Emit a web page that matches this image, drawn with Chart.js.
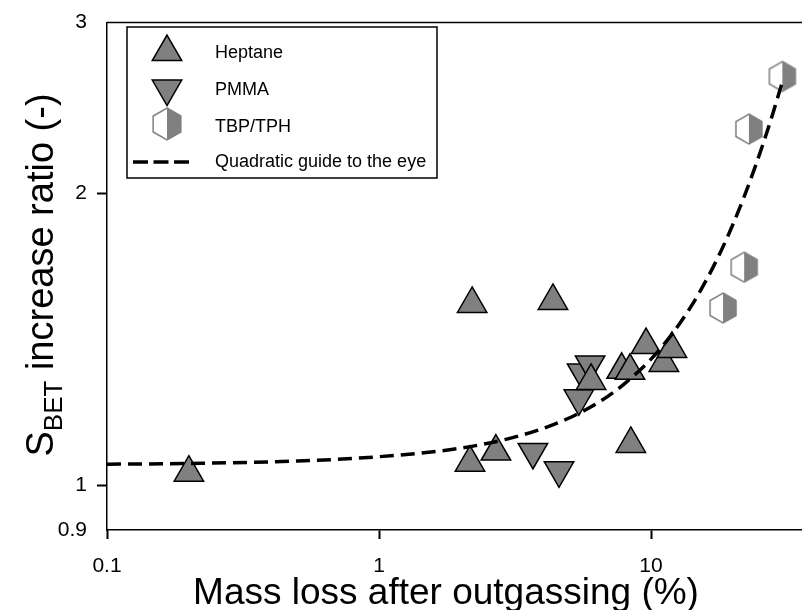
<!DOCTYPE html>
<html>
<head>
<meta charset="utf-8">
<script src="https://cdn.jsdelivr.net/npm/chart.js"></script>
<style>
  html, body { margin: 0; padding: 0; background: #fff; }
</style>
</head>
<body>
<canvas id="sbetChart" width="802" height="610"></canvas>
<script>
// mass loss after outgassing (%) vs S_BET increase ratio, per sample family
const heptaneX = [0.2, 2.16, 2.69, 2.2, 4.36, 8.43, 6.02, 7.8, 8.37, 9.59, 11.15, 11.94];
const heptaneY = [1.031, 1.056, 1.084, 1.539, 1.55, 1.104, 1.282, 1.316, 1.313, 1.396, 1.338, 1.383];
const pmmaX = [3.68, 4.59, 5.43, 5.58, 5.97];
const pmmaY = [1.083, 1.037, 1.23, 1.308, 1.333];
const tbpX = [18.4, 22.0, 22.9, 30.4];
const tbpY = [1.524, 1.679, 2.33, 2.64];

// dashed guide curve
const guideX = [0.1, 0.2, 0.5, 1, 2, 3, 4, 5, 6, 7, 8, 10, 12, 14, 16, 18, 20, 22, 24, 26, 28, 30, 30.5];
const guideY = [1.052, 1.054, 1.06, 1.071, 1.093, 1.118, 1.145, 1.174, 1.205, 1.238, 1.274, 1.35, 1.435, 1.528, 1.63, 1.74, 1.858, 1.985, 2.12, 2.263, 2.414, 2.574, 2.615];

const xTicks = [0.1, 1, 10];
const yTicks = [0.9, 1, 2, 3];
const seriesNames = ['Heptane', 'PMMA', 'TBP/TPH', 'Quadratic guide to the eye'];

const GRAY = '#808080';
const FONT = '"Liberation Sans", Arial, sans-serif';

const pts = (xs, ys) => xs.map((x, i) => ({ x: x, y: ys[i] }));

// half white / half grey hexagon used as a point style
function hexPath(ctx, cx, cy, r) {
    ctx.beginPath();
    for (let k = 0; k < 6; k++) {
        const a = -Math.PI / 2 + k * Math.PI / 3;
        const px = cx + r * Math.cos(a), py = cy + r * Math.sin(a);
        if (k === 0) ctx.moveTo(px, py); else ctx.lineTo(px, py);
    }
    ctx.closePath();
}
function drawHex(ctx, cx, cy, r) {
    ctx.save();
    hexPath(ctx, cx, cy, r);
    ctx.fillStyle = '#fff';
    ctx.fill();
    ctx.save();
    ctx.beginPath();
    ctx.rect(cx, cy - r - 2, r + 2, 2 * r + 4);
    ctx.clip();
    hexPath(ctx, cx, cy, r);
    ctx.fillStyle = GRAY;
    ctx.fill();
    ctx.restore();
    hexPath(ctx, cx, cy, r);
    ctx.strokeStyle = GRAY;
    ctx.lineWidth = 1.5;
    ctx.stroke();
    ctx.restore();
}
function hexImage(r) {
    const c = document.createElement('canvas');
    c.width = c.height = Math.ceil(2 * r + 4);
    drawHex(c.getContext('2d'), c.width / 2, c.height / 2, r);
    return c;
}

function drawTri(ctx, cx, cy, r, down) {
    const s = down ? -1 : 1;
    ctx.beginPath();
    ctx.moveTo(cx, cy - s * r);
    ctx.lineTo(cx + r * Math.sqrt(3) / 2, cy + s * r / 2);
    ctx.lineTo(cx - r * Math.sqrt(3) / 2, cy + s * r / 2);
    ctx.closePath();
    ctx.fillStyle = GRAY;
    ctx.fill();
    ctx.strokeStyle = '#000';
    ctx.lineWidth = 1.5;
    ctx.stroke();
}

// frame top, axis titles and the boxed legend
const decor = {
    id: 'decor',
    afterDraw(chart) {
        const { ctx, chartArea: a } = chart;
        ctx.save();
        ctx.strokeStyle = '#000';
        ctx.lineWidth = 1.5;
        ctx.beginPath();
        ctx.moveTo(a.left, a.top);
        ctx.lineTo(a.right, a.top);
        ctx.stroke();

        ctx.fillStyle = '#000';
        ctx.font = '37px ' + FONT;
        ctx.textAlign = 'center';
        ctx.textBaseline = 'alphabetic';
        ctx.fillText('Mass loss after outgassing (%)', 446, 604);

        // y title: S with subscript BET
        ctx.save();
        ctx.translate(53, 275);
        ctx.rotate(-Math.PI / 2);
        ctx.textAlign = 'left';
        const big = '38px ' + FONT, small = '26px ' + FONT;
        const rest = ' increase ratio (-)';
        ctx.font = big;
        const wS = ctx.measureText('S').width, wR = ctx.measureText(rest).width;
        ctx.font = small;
        const wB = ctx.measureText('BET').width;
        let x0 = -(wS + wB + wR) / 2;
        ctx.font = big;
        ctx.fillText('S', x0, 0);
        ctx.font = small;
        ctx.fillText('BET', x0 + wS, 9);
        ctx.font = big;
        ctx.fillText(rest, x0 + wS + wB, 0);
        ctx.restore();

        // legend
        ctx.lineWidth = 1.5;
        ctx.strokeStyle = '#000';
        ctx.strokeRect(127, 27, 310, 151);
        drawTri(ctx, 167, 52, 17, false);
        drawTri(ctx, 167, 88.5, 17, true);
        drawHex(ctx, 167, 124, 16);
        ctx.save();
        ctx.setLineDash([15, 5.5]);
        ctx.lineWidth = 3.5;
        ctx.strokeStyle = '#000';
        ctx.beginPath();
        ctx.moveTo(133, 162);
        ctx.lineTo(193, 162);
        ctx.stroke();
        ctx.restore();
        ctx.fillStyle = '#000';
        ctx.font = '18px ' + FONT;
        ctx.textAlign = 'left';
        ctx.textBaseline = 'middle';
        const rowsY = [53, 90, 127, 162];
        seriesNames.forEach((t, i) => ctx.fillText(t, 215, rowsY[i]));
        ctx.restore();
    }
};

const hideEdgeTick = (c) => (c.tick && (c.tick.value === 0.9 || c.tick.value === 3)) ? 'rgba(0,0,0,0)' : '#000';

const chart = new Chart(document.getElementById('sbetChart'), {
    type: 'scatter',
    data: {
        datasets: [{
            label: seriesNames[3],
            type: 'line',
            data: pts(guideX, guideY),
            borderColor: '#000',
            borderWidth: 3.5,
            borderDash: [14, 7],
            pointRadius: 0,
            cubicInterpolationMode: 'monotone',
            fill: false,
            order: 0
        }, {
            label: seriesNames[0],
            data: pts(heptaneX, heptaneY),
            pointStyle: 'triangle',
            pointRadius: 17,
            backgroundColor: GRAY,
            borderColor: '#000',
            borderWidth: 1.5,
            order: 1
        }, {
            label: seriesNames[1],
            data: pts(pmmaX, pmmaY),
            pointStyle: 'triangle',
            rotation: 180,
            pointRadius: 17,
            backgroundColor: GRAY,
            borderColor: '#000',
            borderWidth: 1.5,
            order: 1
        }, {
            label: seriesNames[2],
            data: pts(tbpX, tbpY),
            pointStyle: hexImage(15),
            pointRadius: 15,
            order: 1
        }]
    },
    options: {
        responsive: false,
        animation: false,
        events: [],
        devicePixelRatio: 1,
        layout: { autoPadding: false, padding: { top: 20, right: 0, left: 0, bottom: 0 } },
        plugins: {
            legend: { display: false },
            tooltip: { enabled: false }
        },
        scales: {
            x: {
                type: 'logarithmic',
                min: 0.1,
                max: 35.9,
                afterBuildTicks: (s) => { s.ticks = xTicks.map(v => ({ value: v })); },
                afterFit: (s) => { s.height = 80; },
                border: { display: true, color: '#000', width: 1.5 },
                grid: { drawOnChartArea: false, drawTicks: true, tickLength: 9, tickWidth: 2, tickColor: '#000' },
                ticks: {
                    color: '#000',
                    font: { family: FONT, size: 21 },
                    padding: 15,
                    maxRotation: 0,
                    autoSkip: false,
                    callback: (v) => String(v)
                }
            },
            y: {
                type: 'logarithmic',
                min: 0.9,
                max: 3,
                afterBuildTicks: (s) => { s.ticks = yTicks.map(v => ({ value: v })); },
                afterFit: (s) => { s.width = 107; },
                border: { display: true, color: '#000', width: 1.5 },
                grid: { drawOnChartArea: false, drawTicks: true, tickLength: 10, tickWidth: 2, tickColor: hideEdgeTick },
                ticks: {
                    color: '#000',
                    font: { family: FONT, size: 21 },
                    padding: 10,
                    autoSkip: false,
                    callback: (v) => String(v)
                }
            }
        }
    },
    plugins: [decor]
});
</script>
</body>
</html>
